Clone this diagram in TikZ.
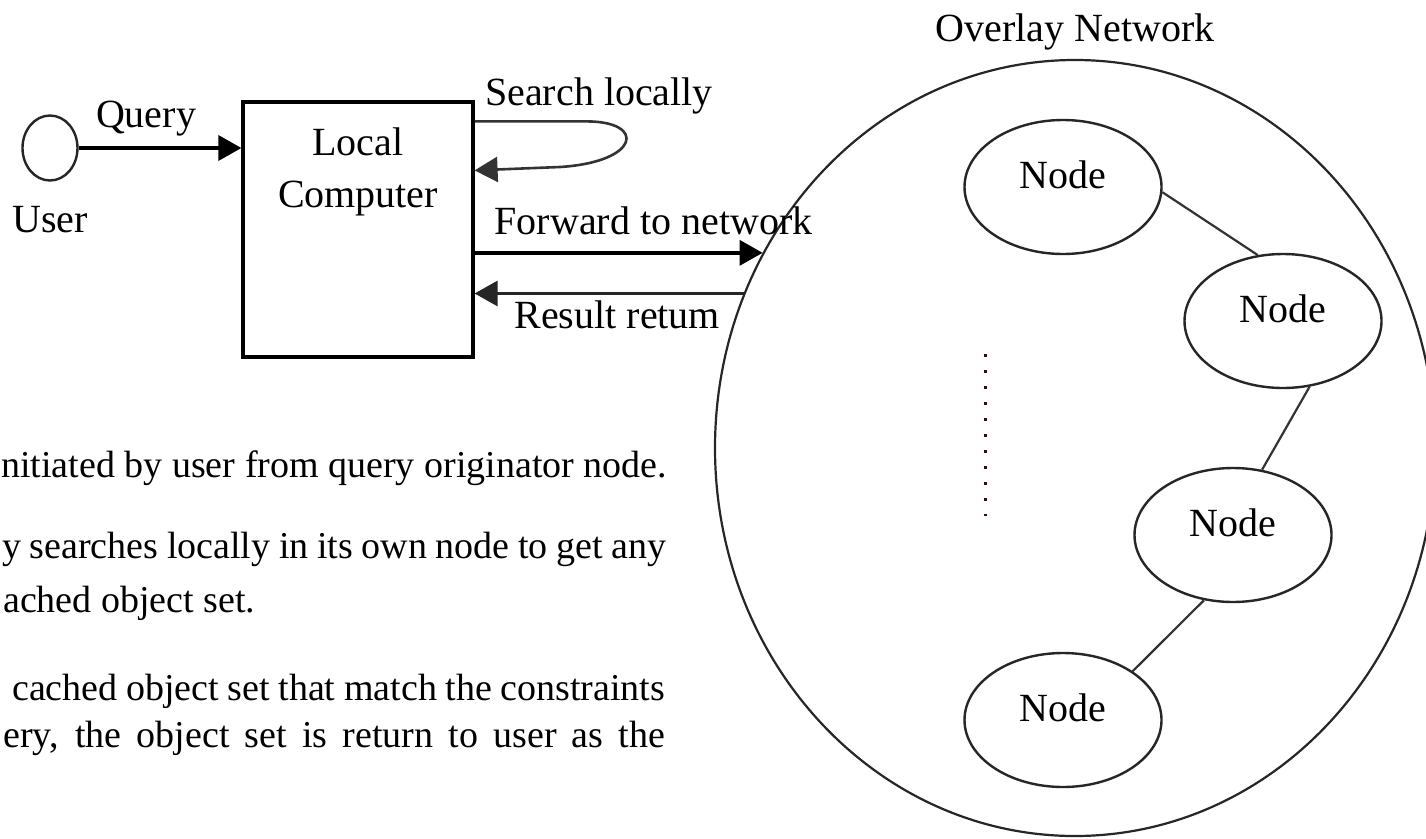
\documentclass[tikz,border=0pt]{standalone}
\usepackage{fontspec}
\setmainfont{Liberation Serif}
\usetikzlibrary{shapes.geometric,arrows.meta,calc}

\definecolor{dotcol}{RGB}{60,10,10}

\begin{document}
\begin{tikzpicture}[x=1pt,y=-1pt,
  lbl/.style={font=\fontsize{40}{52}\selectfont, inner sep=0pt},
  bodytext/.style={font=\fontsize{38}{46}\selectfont, inner sep=0pt, anchor=base west},
  box/.style={draw, line width=3.2pt, minimum width=230pt, minimum height=255pt, inner sep=0pt},
  userring/.style={ellipse, draw=black!85, line width=2.4pt, minimum width=55pt, minimum height=65pt, inner sep=0pt},
  peer/.style={ellipse, draw=black!85, line width=2.4pt, minimum width=197pt, minimum height=134pt,
    inner sep=0pt, font=\fontsize{40}{48}\selectfont, text depth=25pt},
  overlay/.style={ellipse, draw=black!85, line width=2.2pt, minimum width=720pt, minimum height=776pt, inner sep=0pt},
  link/.style={draw=black!80, line width=2.2pt},
  tip/.style={-{Triangle[length=23pt,width=25pt]}},
  flow/.style={tip, line width=3.5pt},
  backflow/.style={tip, line width=3pt, draw=black!85},
  selfloop/.style={tip, line width=2.6pt, draw=black!80},
  dotrow/.style={line width=3pt, draw=dotcol, dash pattern=on 3pt off 13pt}
]
\fill[white] (0,0) rectangle (1426,838);
\useasboundingbox (0,0) rectangle (1426,838);

% user and local computer
\node[userring] (user) at (50,148) {};
\node[lbl, anchor=base] (userlbl) at ($(user.center)+(0,84)$) {User};
\node[box] (lc) at (358,229.5) {};
\node[lbl, align=center, anchor=north] (lctext) at (358,128) {Local\\Computer};

% overlay network with its peers
\node[overlay] (net) at (1075,448) {};
\node[lbl, anchor=base] (netlbl) at (1075,41) {Overlay Network};
\node[peer] (n1) at (1063,187) {Node};
\node[peer] (n2) at (1283,321) {Node};
\node[peer] (n3) at (1233,535) {Node};
\node[peer] (n4) at (1063,720) {Node};
\draw[link] (n1.-3) -- (n2.111);
\draw[link] (n2.-68) -- (n3.66);
\draw[link] (n3.-114) -- (n4.35);
\draw[dotrow] (985,354) -- (985,516);

% query flow
\draw[flow] (user) -- node[lbl, pos=0.414, anchor=base, yshift=21pt] {Query} (user -| lc.west);
\draw[selfloop] ($(lc.north east)+(0,21)$) -- ++(112,0)
  .. controls +(60,0) and +(80,-5) .. (560,167) -- ($(lc.north east)+(0,70)$);
\node[lbl, anchor=base west] (searchlbl) at (485,105) {Search locally};
\draw[flow] (lc.east |- net.148.3) -- (net.148.3)
  node[lbl, pos=0, anchor=base west, xshift=18.4pt, yshift=18pt] {Forward to network};
\draw[backflow] (net.155.7) -- (lc.east |- net.155.7)
  node[lbl, pos=1, anchor=base west, xshift=38.4pt, yshift=-35pt] {Result retum};

% accompanying text
\node[bodytext] (t1) at (1,477) {nitiated by user from query originator node.};
\node[bodytext] (t2) at (2,558) {\makebox[664pt][s]{y searches locally in its own node to get any}};
\node[bodytext] (t3) at (3,612) {ached object set.};
\node[bodytext] (t4) at (12,700) {\makebox[653pt][s]{cached object set that match the constraints}};
\node[bodytext] (t5) at (3,747) {\makebox[662pt][s]{ery, the object set is return to user as the}};
\end{tikzpicture}
\end{document}
